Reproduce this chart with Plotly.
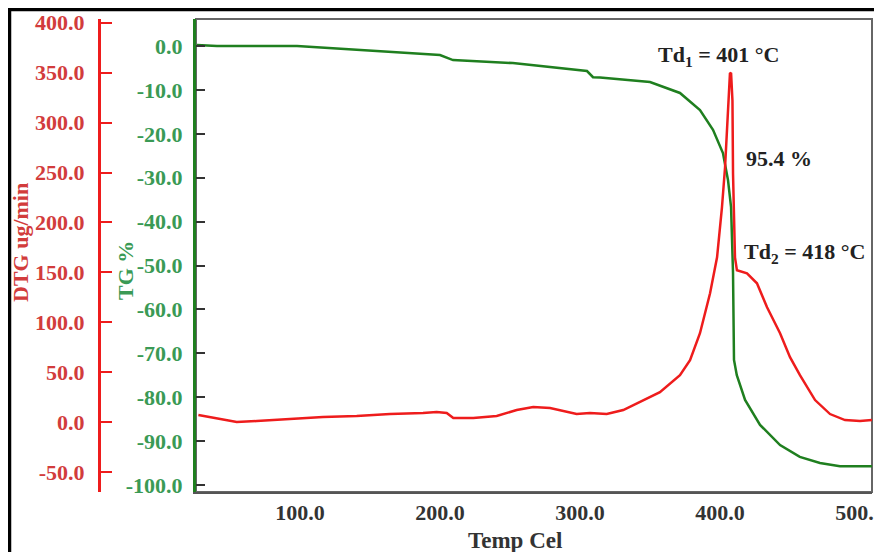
import plotly.graph_objects as go

# ---------------- data ----------------
temp_tg = [26.4, 40.7, 97.9, 150.0, 200.0, 209.3, 252.0, 305.0, 309.3, 314.3, 350.0,
           371.4, 385.7, 395.0, 402.1, 405.7, 407.9, 408.6, 409.3, 410.0, 412.0,
           417.9, 428.6, 442.9, 457.0, 471.4, 485.7, 508.6]
tg_values = [0.2, 0.0, 0.0, -1.0, -2.05, -3.2, -3.9, -5.7, -7.1, -7.2, -8.2,
             -10.7, -14.6, -19.1, -24.4, -30.5, -36.7, -44.2, -51.7, -71.5, -75.0,
             -80.6, -86.3, -90.9, -93.6, -95.0, -95.7, -95.7]

temp_dtg = [27.4, 35.7, 54.8, 69.1, 92.9, 116.4, 140.5, 164.3, 187.9, 197.6, 204.8,
            209.5, 223.8, 240.5, 254.8, 266.6, 278.6, 290.5, 297.6, 307.1, 319.1,
            330.9, 342.9, 357.1, 371.4, 378.6, 385.7, 392.9, 397.9, 401.4, 403.6,
            405.7, 407.1, 407.9, 408.9, 409.3, 410.0, 410.7, 412.1, 419.3, 426.4,
            433.6, 442.9, 450.0, 457.1, 467.9, 478.6, 489.3, 500.0, 508.6]
dtg_values = [7, 5, 0, 1, 3, 5, 6, 8, 9, 10, 9,
              4, 4, 6, 12, 15, 14, 10, 8, 9, 8,
              12, 20, 30, 47, 62, 89, 129, 165, 215, 255,
              315, 349, 350, 322, 249, 192, 165, 152, 149, 139,
              115, 89, 65, 47, 22, 8, 2, 1, 2]

x_ticks = [100, 200, 300, 400, 500]
x_ticktext = ["100.0", "200.0", "300.0", "400.0", "500.0"]
tg_ticks = [0, -10, -20, -30, -40, -50, -60, -70, -80, -90, -100]
tg_ticktext = ["0.0", "-10.0", "-20.0", "-30.0", "-40.0", "-50.0", "-60.0",
               "-70.0", "-80.0", "-90.0", "-100.0"]
dtg_ticks = [400, 350, 300, 250, 200, 150, 100, 50, 0, -50]
dtg_ticktext = ["400.0", "350.0", "300.0", "250.0", "200.0", "150.0", "100.0",
                "50.0", "0.0", "-50.0"]

# ---------------- styling ----------------
FONT = "Liberation Serif"
GREEN = "#1f7f1f"
GREEN_TXT = "#3a9a55"
RED = "#ee1c1c"
RED_TXT = "#d23c3c"
DARK = "#222222"

OFF = 8  # page body margin
W, H = 882 - OFF, 552 - OFF
ML = 90 - OFF
MT = 19 - OFF
MB = 552 - 492
MR = 882 - 872
plot_w = W - ML - MR
plot_h = H - MT - MB


def px_x(px):
    # screen pixel -> paper coordinate
    return (px - OFF - ML) / plot_w


def px_y(py):
    return (H - MB - (py - OFF)) / plot_h


fig = go.Figure()
fig.add_trace(go.Scatter(x=temp_tg, y=tg_values, mode="lines",
                         line=dict(color=GREEN, width=2.5), yaxis="y",
                         showlegend=False))
fig.add_trace(go.Scatter(x=temp_dtg, y=dtg_values, mode="lines",
                         line=dict(color=RED, width=2.5), yaxis="y2",
                         showlegend=False))

fig.update_layout(
    width=W, height=H,
    margin=dict(l=ML, r=MR, t=MT, b=MB, autoexpand=False),
    paper_bgcolor="white", plot_bgcolor="white",
    font=dict(family=FONT, size=22, color=DARK),
    xaxis=dict(domain=[px_x(196), 1], range=[25.71, 508.57],
               tickvals=x_ticks, ticktext=x_ticktext,
               showgrid=False, zeroline=False, showline=True,
               linecolor="#555555", linewidth=2, ticks="",
               ticklabeloverflow="allow", automargin=False,
               tickfont=dict(family=FONT, size=22, color="#333333", weight="bold")),
    yaxis=dict(range=[-101.59, 6.15], anchor="x",
               tickvals=tg_ticks, ticktext=tg_ticktext,
               showgrid=False, zeroline=False, showline=True,
               linecolor=GREEN, linewidth=3, automargin=False,
               ticks="inside", ticklen=9, tickwidth=2, tickcolor="#333333",
               ticklabelstandoff=6,
               tickfont=dict(family=FONT, size=22, color=GREEN_TXT, weight="bold")),
    yaxis2=dict(range=[-70.1, 403.8], overlaying="y", anchor="free",
                position=px_x(99), side="left", automargin=False,
                tickvals=dtg_ticks, ticktext=dtg_ticktext,
                showgrid=False, zeroline=False, showline=True,
                linecolor=RED, linewidth=3,
                ticks="inside", ticklen=11, tickwidth=2, tickcolor=RED,
                ticklabelstandoff=9,
                tickfont=dict(family=FONT, size=22, color=RED_TXT, weight="bold")),
)

# plot frame
fig.add_shape(type="rect", xref="x domain", yref="y domain", x0=0, x1=1, y0=0, y1=1,
              line=dict(color="#666666", width=2), layer="below")
# outer black border (left and top)
fig.add_shape(type="line", xref="paper", yref="paper",
              x0=px_x(9.5), x1=px_x(9.5), y0=px_y(8), y1=px_y(560),
              line=dict(color="black", width=3.5))
fig.add_shape(type="line", xref="paper", yref="paper",
              x0=px_x(8), x1=px_x(890), y0=px_y(9.5), y1=px_y(9.5),
              line=dict(color="black", width=3.5))

# axis titles
fig.add_annotation(text="<b>DTG ug/min</b>", xref="paper", yref="paper",
                   x=px_x(20), y=px_y(243), textangle=-90, showarrow=False,
                   xanchor="center", yanchor="middle",
                   font=dict(family=FONT, size=22, color=RED_TXT))
fig.add_annotation(text="<b>TG %</b>", xref="paper", yref="paper",
                   x=px_x(125), y=px_y(271), textangle=-90, showarrow=False,
                   xanchor="center", yanchor="middle",
                   font=dict(family=FONT, size=22, color=GREEN_TXT))
fig.add_annotation(text="<b>Temp Cel</b>", xref="paper", yref="paper",
                   x=px_x(515), y=px_y(540), showarrow=False,
                   xanchor="center", yanchor="middle",
                   font=dict(family=FONT, size=23, color="#333333"))

# data annotations
fig.add_annotation(text="<b>Td<sub>1</sub> = 401 °C</b>", xref="x", yref="y2",
                   x=398.6, y=367, showarrow=False,
                   font=dict(family=FONT, size=22, color=DARK))
fig.add_annotation(text="<b>95.4 %</b>", xref="x", yref="y2",
                   x=442, y=264, showarrow=False,
                   font=dict(family=FONT, size=22, color=DARK))
fig.add_annotation(text="<b>Td<sub>2</sub> = 418 °C</b>", xref="x", yref="y2",
                   x=460, y=169, showarrow=False,
                   font=dict(family=FONT, size=22, color=DARK))

fig.write_html("out.html")
